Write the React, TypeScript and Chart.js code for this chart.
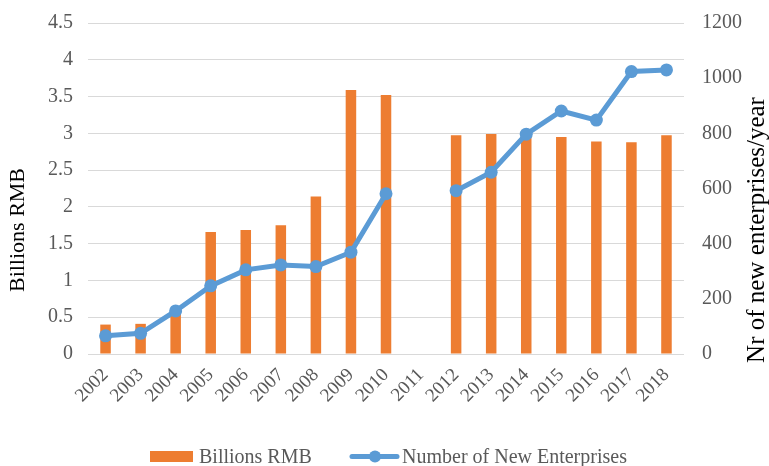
import React, { useEffect, useRef } from "react";
import { Chart, registerables } from "chart.js";

Chart.register(...registerables);

const years = ["2002","2003","2004","2005","2006","2007","2008","2009","2010","2011","2012","2013","2014","2015","2016","2017","2018"];
const billionsRMB = [0.40, 0.41, 0.60, 1.66, 1.685, 1.75, 2.14, 3.59, 3.52, null, 2.975, 2.99, 2.98, 2.95, 2.89, 2.88, 2.975];
const newEnterprises = [66, 75, 156, 247, 305, 323, 317, 369, 581, null, 592, 659, 797, 881, 848, 1024, 1030];
const leftTitle = "Billions RMB";
const rightTitle = "Nr of new enterprises/year";
const barLabel = "Billions RMB";
const lineLabel = "Number of New Enterprises";

const ORANGE = "#ED7D31";
const BLUE = "#5B9BD5";
const FONT = "Liberation Serif";

Chart.defaults.font.family = FONT;

const decorPlugin = {
  id: "decor",
  afterDraw(chart: any) {
    const ctx = chart.ctx;
    ctx.save();
    ctx.fillStyle = "#000";
    ctx.textAlign = "center";
    ctx.textBaseline = "middle";
    ctx.font = `22px "${FONT}"`;
    ctx.save();
    ctx.translate(18, 230);
    ctx.rotate(-Math.PI / 2);
    ctx.fillText(leftTitle, 0, 0);
    ctx.restore();
    ctx.font = `25px "${FONT}"`;
    ctx.save();
    ctx.translate(757, 230);
    ctx.rotate(-Math.PI / 2);
    ctx.fillText(rightTitle, 0, 0);
    ctx.restore();

    const ly = 456.5;
    ctx.fillStyle = ORANGE;
    ctx.fillRect(150, 451, 43, 11);
    ctx.strokeStyle = BLUE;
    ctx.lineWidth = 5;
    ctx.lineCap = "round";
    ctx.beginPath();
    ctx.moveTo(352, ly);
    ctx.lineTo(397, ly);
    ctx.stroke();
    ctx.fillStyle = BLUE;
    ctx.beginPath();
    ctx.arc(375, ly, 6, 0, Math.PI * 2);
    ctx.fill();
    ctx.fillStyle = "#595959";
    ctx.font = `20px "${FONT}"`;
    ctx.textAlign = "left";
    ctx.fillText(barLabel, 199, ly + 1);
    ctx.fillText(lineLabel, 402, ly + 1);
    ctx.restore();
  },
};

export default function App() {
  const ref = useRef<HTMLCanvasElement>(null);
  useEffect(() => {
    document.body.style.margin = "0";
    const chart = new Chart(ref.current!, {
      type: "bar",
      data: {
        labels: years,
        datasets: [
          {
            type: "line",
            label: lineLabel,
            data: newEnterprises,
            yAxisID: "y1",
            borderColor: BLUE,
            backgroundColor: BLUE,
            borderWidth: 5,
            pointRadius: 6.5,
            pointBackgroundColor: BLUE,
            pointBorderWidth: 0,
            spanGaps: false,
            tension: 0,
            order: 0,
          } as any,
          {
            type: "bar",
            label: barLabel,
            data: billionsRMB,
            yAxisID: "y",
            backgroundColor: ORANGE,
            barPercentage: 0.3,
            categoryPercentage: 1,
            order: 1,
          } as any,
        ],
      },
      options: {
        animation: false,
        responsive: false,
        maintainAspectRatio: false,
        layout: { padding: { top: 23, bottom: 0, left: 0, right: 0 } },
        plugins: { legend: { display: false }, tooltip: { enabled: false } },
        scales: {
          x: {
            grid: { display: false },
            border: { display: false },
            ticks: {
              color: "#595959",
              font: { family: FONT, size: 19 },
              maxRotation: 45,
              minRotation: 45,
              autoSkip: false,
              padding: 2,
            },
            afterFit: (s: any) => { s.height = 112; s.paddingLeft = 0; s.paddingRight = 0; },
          },
          y: {
            position: "left",
            min: 0,
            max: 4.5,
            grid: { color: "#d9d9d9", lineWidth: 1, drawTicks: false },
            border: { display: false },
            ticks: {
              stepSize: 0.5,
              color: "#595959",
              font: { family: FONT, size: 20 },
              padding: 15,
              callback: (v: any) => String(v),
            },
            afterFit: (s: any) => { s.width = 88; s.paddingTop = 0; s.paddingBottom = 0; },
          },
          y1: {
            position: "right",
            min: 0,
            max: 1200,
            grid: { display: false, drawTicks: false },
            border: { display: false },
            ticks: {
              stepSize: 200,
              color: "#595959",
              font: { family: FONT, size: 20 },
              padding: 18,
              callback: (v: any) => String(v),
            },
            afterFit: (s: any) => { s.width = 85; s.paddingTop = 0; s.paddingBottom = 0; },
          },
        },
      },
      plugins: [decorPlugin],
    });
    return () => chart.destroy();
  }, []);
  return (
    <div style={{ position: "absolute", left: 0, top: 0, width: 769, height: 466, background: "#fff" }}>
      <canvas ref={ref} width={769} height={466} style={{ width: 769, height: 466 }} />
    </div>
  );
}
